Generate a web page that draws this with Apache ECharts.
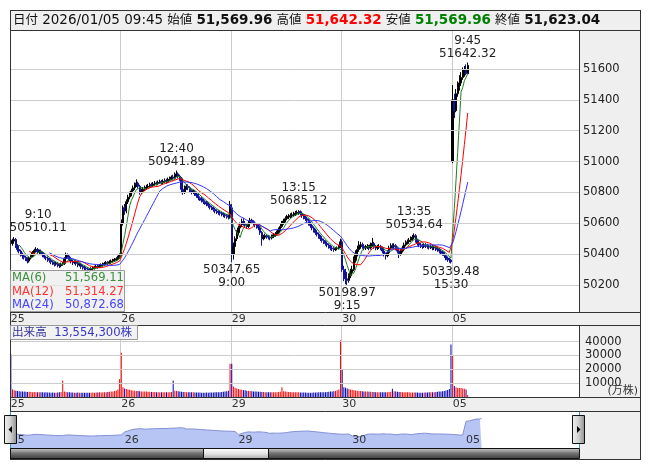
<!DOCTYPE html>
<html><head><meta charset="utf-8">
<script src="https://cdn.jsdelivr.net/npm/echarts@6.0.0/dist/echarts.min.js"></script>
<style>html,body{margin:0;padding:0;background:#fff}#c{width:653px;height:470px}</style>
</head><body><div id="c"></div>
<script>
// ---------------- data ----------------
const dayLabels = ['25', '26', '29', '30', '05'];
const barsPerDay = 66;
const mainSlots = 340;
const navSlots = 330;
// [open, close, low, high]
const candles25 = [
[50490,50470,50450,50505],[50470,50485,50455,50500],[50485,50495,50470,50510.11],[50495,50455,50440,50505],[50455,50430,50415,50465],[50430,50420,50405,50445],
[50420,50400,50385,50430],[50400,50390,50370,50410],[50390,50380,50365,50400],[50380,50370,50355,50390],[50370,50355,50340,50380],[50355,50375,50345,50385],
[50375,50390,50365,50400],[50390,50410,50380,50420],[50410,50425,50400,50435],[50425,50430,50410,50445],[50430,50415,50405,50440],[50415,50420,50400,50430],
[50420,50405,50395,50430],[50405,50395,50380,50415],[50395,50380,50370,50405],[50380,50375,50360,50390],[50375,50365,50350,50385],[50365,50360,50345,50375],
[50360,50350,50335,50370],[50350,50345,50330,50360],[50345,50335,50320,50355],[50335,50340,50325,50350],[50340,50330,50315,50350],[50330,50325,50310,50340],
[50325,50335,50315,50345],[50335,50340,50325,50350],[50340,50370,50330,50380],[50370,50395,50360,50410],[50395,50380,50370,50405],[50380,50365,50355,50390],
[50365,50355,50340,50375],[50355,50345,50330,50365],[50345,50350,50335,50360],[50350,50340,50325,50360],[50340,50330,50315,50350],[50330,50335,50320,50345],
[50335,50320,50305,50345],[50320,50315,50300,50330],[50315,50310,50295,50325],[50310,50305,50290,50320],[50305,50300,50285,50315],[50300,50298,50283,50310],
[50298,50305,50290,50315],[50305,50310,50295,50320],[50310,50315,50300,50325],[50315,50320,50305,50330],[50320,50318,50305,50330],[50318,50325,50310,50335],
[50325,50330,50315,50340],[50330,50335,50320,50345],[50335,50340,50325,50350],[50340,50345,50330,50355],[50345,50340,50327,50355],[50340,50350,50333,50360],
[50350,50355,50340,50365],[50355,50360,50345,50370],[50360,50365,50350,50375],[50365,50370,50355,50380],[50370,50380,50360,50390],[50380,50395,50370,50405]
];
const candles26 = [
[50400,50600,50390,50625],[50600,50700,50585,50715],[50700,50680,50655,50725],[50680,50740,50665,50755],[50740,50770,50725,50785],[50770,50790,50755,50805],
[50790,50810,50775,50825],[50810,50830,50795,50845],[50830,50850,50815,50865],[50850,50860,50835,50885],[50860,50840,50825,50870],[50840,50800,50785,50850],
[50800,50810,50790,50825],[50810,50820,50800,50835],[50820,50830,50810,50845],[50830,50835,50817,50850],[50835,50840,50823,50855],[50840,50850,50830,50863],
[50850,50845,50833,50863],[50845,50855,50835,50867],[50855,50860,50843,50873],[50860,50858,50845,50871],[50858,50865,50847,50877],[50865,50870,50855,50883],
[50870,50862,50850,50881],[50862,50872,50853,50885],[50872,50878,50861,50891],[50878,50870,50857,50889],[50870,50885,50861,50897],[50885,50890,50873,50903],
[50890,50900,50879,50910],[50900,50892,50877,50915],[50892,50915,50883,50930],[50915,50920,50900,50941.89],[50920,50905,50890,50930],[50905,50890,50875,50915],
[50890,50820,50795,50900],[50820,50800,50785,50835],[50800,50830,50790,50845],[50830,50840,50817,50855],[50840,50830,50815,50853],[50830,50815,50800,50840],
[50815,50800,50787,50825],[50800,50805,50790,50817],[50805,50790,50777,50815],[50790,50780,50765,50800],[50780,50765,50750,50790],[50765,50760,50745,50775],
[50760,50750,50735,50770],[50750,50740,50725,50760],[50740,50735,50720,50750],[50735,50725,50710,50745],[50725,50715,50700,50735],[50715,50705,50690,50725],
[50705,50700,50685,50715],[50700,50690,50675,50710],[50690,50680,50665,50700],[50680,50675,50660,50690],[50675,50670,50655,50685],[50670,50665,50650,50680],
[50665,50660,50645,50675],[50660,50655,50640,50670],[50655,50650,50635,50665],[50650,50645,50630,50660],[50645,50640,50625,50655],[50640,50720,50630,50745]
];
const candles29 = [
[50700,50400,50347.65,50725],[50400,50450,50365,50475],[50450,50500,50435,50515],[50500,50540,50485,50555],[50540,50570,50525,50585],[50570,50590,50555,50605],
[50590,50610,50575,50630],[50610,50600,50585,50635],[50600,50590,50575,50615],[50590,50580,50565,50600],[50580,50600,50570,50615],[50600,50620,50590,50635],
[50620,50610,50595,50630],[50610,50600,50585,50620],[50600,50590,50575,50610],[50590,50580,50565,50600],[50580,50570,50555,50590],[50570,50540,50525,50580],
[50540,50500,50455,50550],[50500,50510,50490,50525],[50510,50520,50500,50533],[50520,50515,50500,50530],[50515,50510,50495,50525],[50510,50505,50490,50520],
[50505,50515,50495,50527],[50515,50525,50505,50537],[50525,50530,50513,50543],[50530,50540,50520,50553],[50540,50560,50530,50573],[50560,50580,50550,50595],
[50580,50600,50570,50615],[50600,50615,50590,50630],[50615,50630,50605,50645],[50630,50640,50620,50655],[50640,50645,50627,50660],[50645,50650,50633,50665],
[50650,50655,50637,50670],[50655,50660,50643,50675],[50660,50665,50647,50680],[50665,50670,50653,50683],[50670,50675,50655,50685.12],[50675,50665,50650,50683],
[50665,50650,50635,50675],[50650,50640,50625,50660],[50640,50630,50615,50650],[50630,50620,50605,50640],[50620,50600,50585,50630],[50600,50585,50570,50610],
[50585,50570,50555,50595],[50570,50555,50540,50580],[50555,50540,50525,50565],[50540,50530,50515,50550],[50530,50515,50500,50540],[50515,50500,50485,50525],
[50500,50490,50475,50510],[50490,50480,50465,50500],[50480,50470,50455,50490],[50470,50460,50445,50480],[50460,50450,50435,50470],[50450,50440,50425,50460],
[50440,50435,50420,50450],[50435,50430,50415,50445],[50430,50435,50420,50445],[50435,50440,50425,50450],[50440,50450,50430,50460],[50450,50480,50440,50500]
];
const candles30 = [
[50480,50300,50285,50495],[50300,50260,50225,50325],[50260,50240,50205,50305],[50240,50230,50198.97,50285],[50230,50260,50215,50275],[50260,50280,50245,50305],
[50280,50300,50265,50325],[50300,50360,50290,50385],[50360,50400,50345,50425],[50400,50430,50385,50455],[50430,50450,50415,50485],[50450,50460,50435,50480],
[50460,50450,50435,50475],[50450,50440,50425,50465],[50440,50445,50427,50460],[50445,50450,50433,50465],[50450,50440,50425,50460],[50440,50460,50430,50475],
[50460,50470,50450,50505],[50470,50450,50435,50480],[50450,50440,50425,50460],[50440,50445,50427,50460],[50445,50450,50433,50465],[50450,50440,50425,50460],
[50440,50420,50405,50450],[50420,50400,50385,50430],[50400,50390,50365,50410],[50390,50410,50380,50425],[50410,50440,50400,50455],[50440,50455,50430,50470],
[50455,50450,50435,50470],[50450,50455,50437,50470],[50455,50440,50425,50465],[50440,50420,50405,50450],[50420,50400,50375,50430],[50400,50420,50390,50435],
[50420,50440,50410,50455],[50440,50460,50430,50475],[50460,50475,50450,50490],[50475,50480,50463,50495],[50480,50490,50467,50505],[50490,50500,50477,50515],
[50500,50510,50487,50525],[50510,50520,50497,50534.64],[50520,50490,50475,50530],[50490,50470,50455,50500],[50470,50460,50445,50480],[50460,50455,50440,50473],
[50455,50450,50435,50467],[50450,50460,50440,50473],[50460,50455,50440,50471],[50455,50450,50435,50467],[50450,50445,50430,50461],[50445,50450,50433,50463],
[50450,50440,50425,50460],[50440,50445,50427,50457],[50445,50435,50420,50455],[50435,50430,50415,50447],[50430,50420,50405,50440],[50420,50415,50400,50433],
[50415,50405,50390,50425],[50405,50390,50375,50415],[50390,50375,50360,50400],[50375,50365,50350,50385],[50365,50362,50345,50377],[50362,50350,50339.48,50370]
];
const candles05 = [
[51000,51400,50990,51496],[51400,51330,51282,51440],[51330,51440,51320,51470],[51440,51480,51420,51520],[51480,51510,51460,51560],
[51510,51545,51490,51580],[51545,51575,51530,51610],[51575,51595,51550,51620],[51595,51570,51560,51630],[51569.96,51623.04,51569.96,51642.32]
];
// volume (万株)
const vol25 = [31000,5500,4900,4600,4300,4200,4000,3900,3900,3800,3600,3800,3600,3500,3600,3500,3400,3500,3400,3400,3300,3400,3300,3300,3100,3300,3100,3100,3300,3400,3600,12000,3900,3600,3500,3400,3300,3300,3100,3100,3300,3100,3100,3000,3100,3100,3000,3100,3100,3300,3100,3300,3300,3400,3300,3400,3500,3500,3600,3800,3900,4000,4300,4700,5500,13000];
const vol26 = [32000,7000,6200,5700,5500,5200,4900,4700,4600,4400,4300,4200,4000,4000,3900,3900,3800,3800,3600,3600,3600,3500,3500,3500,3400,3400,3400,3400,3500,3500,3600,12000,4600,4300,4200,3900,3800,3600,3600,3500,3500,3400,3400,3400,3300,3300,3300,3300,3100,3100,3100,3300,3100,3300,3300,3300,3400,3400,3500,3500,3600,3800,3900,4200,4600,24000];
const vol29 = [24000,7500,6600,6200,5700,5500,5200,4900,4800,4600,4400,4300,4200,4000,3900,3900,3800,3800,3600,3600,3500,3500,3500,3400,3400,3400,3500,3500,3600,3800,7000,4200,3900,3800,3600,3600,3500,3500,3400,3400,3400,3300,3300,3300,3300,3100,3100,3100,3100,3300,3300,3300,3400,3400,3400,3500,3500,3600,3800,3900,4000,4200,4400,4800,5500,41000];
const vol30 = [20000,7000,6600,6200,5700,5500,5200,4900,4700,4600,4400,4300,4200,4000,3900,3900,3800,3800,3600,3600,3500,3500,3500,3400,3400,3400,3500,3500,3600,3800,6000,4200,3900,3800,3600,3600,3500,3500,3400,3400,3400,3300,3300,3300,3300,3300,3100,3100,3100,3300,3300,3300,3400,3400,3500,3500,3600,3800,3900,4000,4200,4400,4700,5000,5700,38000];
const vol05 = [30000,8000,7000,6500,6500,6500,6200,6000,5500,1355.43];

const priceTicks = [50200, 50400, 50600, 50800, 51000, 51200, 51400, 51600];
const volTicks = [10000, 20000, 30000, 40000];
const maPeriods = [6, 12, 24];
const maLegendValues = [51569.11, 51314.27, 50872.68];
const quoteTime = '2026/01/05 09:45';
const quoteOpen = 51569.96, quoteHigh = 51642.32, quoteLow = 51569.96, quoteClose = 51623.04;
const annoIndex = [2, 99, 172, 241, 273, 132, 201, 263];
const annoTime = ['9:10', '12:40', '13:15', '13:35', '9:45', '9:00', '9:15', '15:30'];
const annoValue = [50510.11, 50941.89, 50685.12, 50534.64, 51642.32, 50347.65, 50198.97, 50339.48];
const annoKind = ['high', 'high', 'high', 'high', 'high', 'low', 'low', 'low'];

// ---------------- chart ----------------
const candles = [].concat(candles25, candles26, candles29, candles30, candles05);
const volumes = [].concat(vol25, vol26, vol29, vol30, vol05);
const closes = candles.map(d => d[1]);
const cats = Array.from({length: mainSlots}, (_, i) => 'b' + i);
const navCats = Array.from({length: navSlots}, (_, i) => 'n' + i);
function movingAverage(n) {
  return closes.map((c, i) => {
    if (i < n - 1) return null;
    let s = 0; for (let k = i - n + 1; k <= i; k++) s += closes[k];
    return +(s / n).toFixed(2);
  });
}
const isDayStart = i => i % barsPerDay === 0 && i / barsPerDay < dayLabels.length;
const dayFmt = (v, i) => isDayStart(i) ? dayLabels[i / barsPerDay] : '';
const FONT = '"DejaVu Sans","Noto Sans CJK JP",sans-serif';
const UP = '#000000', DOWN = '#10109c', VUP = '#ff0000', VDOWN = '#0000b4';
const maColors = ['#1e7d1e', '#ff0000', '#3636ff'];
const maTextColors = ['#3c8f3c', '#ff3434', '#4444ff'];
const fmt2 = v => v.toLocaleString('en-US', {minimumFractionDigits: 2, maximumFractionDigits: 2});
const GRID = '#cccccc';
const PANEL = '#efefef';
const FRAME = '#333333';

const chart = echarts.init(document.getElementById('c'));

const xCommon = {
  type: 'category', boundaryGap: true,
  axisLine: {show: false}, axisTick: {show: false}
};

const option = {
  animation: false,
  backgroundColor: '#ffffff',
  grid: [
    {left: 10, top: 30, width: 569, height: 282, show: true, backgroundColor: '#fff', borderWidth: 0},
    {left: 10, top: 325, width: 569, height: 72, show: true, backgroundColor: '#fff', borderWidth: 0},
    {left: 10, top: 411, width: 569, height: 37, show: true, backgroundColor: '#fff', borderWidth: 0}
  ],
  xAxis: [
    Object.assign({}, xCommon, {gridIndex: 0, data: cats,
      axisLabel: {interval: (i) => isDayStart(i), formatter: dayFmt, align: 'left', margin: 2, color: '#333', fontSize: 11, fontFamily: FONT},
      splitLine: {show: true, interval: (i) => isDayStart(i) && i > 0, lineStyle: {color: GRID, width: 1}}}),
    Object.assign({}, xCommon, {gridIndex: 1, data: cats,
      axisLabel: {interval: (i) => isDayStart(i), formatter: dayFmt, align: 'left', margin: 2, color: '#333', fontSize: 11, fontFamily: FONT},
      splitLine: {show: true, interval: (i) => isDayStart(i) && i > 0, lineStyle: {color: GRID, width: 1}}}),
    Object.assign({}, xCommon, {gridIndex: 2, data: navCats, z: 10,
      axisLabel: {inside: true, interval: (i) => isDayStart(i), formatter: dayFmt, align: 'left', margin: 2, color: '#333', fontSize: 11, fontFamily: FONT},
      splitLine: {show: false}})
  ],
  yAxis: [
    {gridIndex: 0, type: 'value', position: 'right', min: 50025, max: 51853, splitNumber: 9, scale: true,
      axisLine: {show: false}, axisTick: {show: false}, splitLine: {show: false},
      axisLabel: {margin: 4, color: '#222', fontSize: 11.5, fontFamily: FONT, formatter: v => priceTicks.indexOf(v) >= 0 ? String(v) : ''}},
    {gridIndex: 1, type: 'value', position: 'right', min: 0, max: 52000, interval: 10000,
      axisLine: {show: false}, axisTick: {show: false}, splitLine: {show: false},
      axisLabel: {margin: 6, color: '#222', fontSize: 11.5, fontFamily: FONT, formatter: v => volTicks.indexOf(v) >= 0 ? String(v) : ''}},
    {gridIndex: 2, type: 'value', min: 49400, max: 52175, show: false}
  ],
  series: [
    {type: 'line', xAxisIndex: 0, yAxisIndex: 0, data: cats.map(() => null), z: 1, silent: true, symbol: 'none',
      markLine: {silent: true, symbol: ['none', 'none'], animation: false, label: {show: false},
        lineStyle: {color: GRID, type: 'solid', width: 1}, data: priceTicks.map(v => ({yAxis: v}))}},
    {type: 'candlestick', xAxisIndex: 0, yAxisIndex: 0, data: candles, z: 3, barWidth: 1.8,
      itemStyle: {color: UP, color0: DOWN, borderColor: UP, borderColor0: DOWN, borderWidth: 1},
      markPoint: {symbol: 'rect', symbolSize: 1, silent: true, animation: false,
        itemStyle: {color: 'rgba(0,0,0,0)'},
        data: annoIndex.map((idx, k) => {
          const high = annoKind[k] === 'high';
          return {
            coord: [idx, annoValue[k]],
            label: {show: true, position: high ? 'top' : 'bottom', distance: high ? 2 : 1,
              formatter: high ? annoTime[k] + '\n' + annoValue[k].toFixed(2) : annoValue[k].toFixed(2) + '\n' + annoTime[k],
              color: '#222', fontSize: 12, lineHeight: 13, fontFamily: FONT, align: 'center',
              offset: idx < 10 ? [24, 0] : [0, 0]}
          };
        })}},
    ...maPeriods.map((n, k) => ({type: 'line', xAxisIndex: 0, yAxisIndex: 0, data: movingAverage(n), z: 4,
      symbol: 'none', silent: true, lineStyle: {color: maColors[k], width: 1}})),
    {type: 'line', xAxisIndex: 1, yAxisIndex: 1, data: cats.map(() => null), z: 1, silent: true, symbol: 'none',
      markLine: {silent: true, symbol: ['none', 'none'], animation: false, label: {show: false},
        lineStyle: {color: GRID, type: 'solid', width: 1}, data: volTicks.map(v => ({yAxis: v}))}},
    {type: 'bar', xAxisIndex: 1, yAxisIndex: 1, barWidth: 1, z: 3,
      data: volumes.map((v, i) => ({value: v, itemStyle: {color: candles[i][1] >= candles[i][0] ? VUP : VDOWN}}))},
    {type: 'line', xAxisIndex: 2, yAxisIndex: 2, data: closes, symbol: 'none', silent: true, z: 2,
      lineStyle: {color: '#8490d4', width: 1}, areaStyle: {color: '#b7c5f5', opacity: 1}}
  ],
  graphic: []
};

const lg = (a, b, c, d, stops) => new echarts.graphic.LinearGradient(a, b, c, d, stops.map((s, i) => ({offset: i / (stops.length - 1), color: s})));
const G = [];
// panels (behind everything)
G.push({type: 'rect', z: -1, shape: {x: 10, y: 10, width: 630, height: 20}, style: {fill: PANEL}});
G.push({type: 'rect', z: -1, shape: {x: 579, y: 30, width: 61, height: 282}, style: {fill: PANEL}});
G.push({type: 'rect', z: -1, shape: {x: 10, y: 312, width: 630, height: 13}, style: {fill: PANEL}});
G.push({type: 'rect', z: -1, shape: {x: 579, y: 325, width: 61, height: 72}, style: {fill: PANEL}});
G.push({type: 'rect', z: -1, shape: {x: 10, y: 397, width: 630, height: 14}, style: {fill: PANEL}});
G.push({type: 'rect', z: -1, shape: {x: 579, y: 411, width: 61, height: 48}, style: {fill: PANEL}});
// frame lines
const hl = (y, x1, x2) => G.push({type: 'line', z: 50, shape: {x1, y1: y, x2, y2: y}, style: {stroke: FRAME, lineWidth: 1}});
const vl = (x, y1, y2, c) => G.push({type: 'line', z: 50, shape: {x1: x, y1, x2: x, y2}, style: {stroke: c || FRAME, lineWidth: 1}});
hl(10.5, 10, 640.5); hl(30.5, 10, 640.5); hl(312.5, 10, 640.5); hl(325.5, 10, 640.5); hl(397.5, 10, 640.5); hl(411.5, 10, 640.5); hl(459.5, 10, 640.5);
vl(10.5, 10, 460); vl(640.5, 10, 460); vl(579.5, 30, 312); vl(579.5, 325, 397);
vl(10.5, 412, 448, '#2f9ad6'); vl(579.5, 412, 448, '#2f9ad6');
// header
G.push({type: 'text', z: 60, x: 13, y: 20.5, style: {
  text: '{l|日付} {n|' + quoteTime + '} {l|始値} {b|' + fmt2(quoteOpen) + '} {l|高値} {r|' + fmt2(quoteHigh) + '} {l|安値} {g|' + fmt2(quoteLow) + '} {l|終値} {b|' + fmt2(quoteClose) + '}',
  verticalAlign: 'middle', font: '13px ' + FONT, fill: '#111',
  rich: {
    l: {fontSize: 12.5, fontFamily: FONT, fill: '#111'},
    n: {fontSize: 13.5, fontFamily: FONT, fill: '#111'},
    b: {fontSize: 13.5, fontFamily: FONT, fontWeight: 'bold', fill: '#111'},
    r: {fontSize: 13.5, fontFamily: FONT, fontWeight: 'bold', fill: '#ff0000'},
    g: {fontSize: 13.5, fontFamily: FONT, fontWeight: 'bold', fill: '#008000'}
  }}});
// MA legend
G.push({type: 'rect', z: 60, shape: {x: 10.5, y: 270.5, width: 114, height: 41}, style: {fill: 'rgba(236,236,236,0.72)', stroke: '#9a9a9a', lineWidth: 1}});
maPeriods.forEach((n, k) => {
  G.push({type: 'text', z: 61, x: 12, y: 278 + k * 13.5, style: {text: 'MA(' + n + ')', font: '11.6px ' + FONT, fill: maTextColors[k], verticalAlign: 'middle'}});
  G.push({type: 'text', z: 61, x: 124, y: 278 + k * 13.5, style: {text: fmt2(maLegendValues[k]), font: '11.6px ' + FONT, fill: maTextColors[k], verticalAlign: 'middle', align: 'right'}});
});
// volume legend
const lastVolShares = Math.round(volumes[volumes.length - 1] * 10000);
G.push({type: 'rect', z: 60, shape: {x: 10.5, y: 325.5, width: 127, height: 14}, style: {fill: 'rgba(240,240,240,0.85)', stroke: '#9a9a9a', lineWidth: 1}});
G.push({type: 'text', z: 61, x: 12, y: 333, style: {text: '{a|出来高}  {v|' + lastVolShares.toLocaleString('en-US') + '株}', verticalAlign: 'middle', font: '11.6px ' + FONT,
  rich: {a: {fontSize: 11.6, fontFamily: FONT, fill: '#33339a'}, v: {fontSize: 11.6, fontFamily: FONT, fill: '#3434c8'}}}});
G.push({type: 'text', z: 61, x: 638, y: 391, style: {text: '(万株)', font: '11px ' + FONT, fill: '#333', align: 'right', verticalAlign: 'middle'}});
// navigator scrollbar + handles
G.push({type: 'rect', z: 55, shape: {x: 10.5, y: 448.5, width: 569, height: 10}, style: {fill: lg(0, 0, 0, 1, ['#d0d0d0', '#707070', '#3a3a3a']), stroke: '#111', lineWidth: 1}});
G.push({type: 'rect', z: 56, shape: {x: 203.5, y: 448.5, width: 65, height: 10}, style: {fill: lg(0, 0, 0, 1, ['#ffffff', '#e4e4e4', '#a8a8a8']), stroke: '#111', lineWidth: 1}});
G.push({type: 'rect', z: 57, shape: {x: 4.5, y: 415.5, width: 12, height: 28}, style: {fill: lg(0, 0, 1, 0, ['#f4f4f4', '#d0d0d0', '#8a8a8a']), stroke: '#111', lineWidth: 1}});
G.push({type: 'polygon', z: 58, shape: {points: [[12, 426], [8.5, 429.5], [12, 433]]}, style: {fill: '#000'}});
G.push({type: 'rect', z: 57, shape: {x: 572.5, y: 415.5, width: 12, height: 28}, style: {fill: lg(0, 0, 1, 0, ['#f4f4f4', '#d0d0d0', '#8a8a8a']), stroke: '#111', lineWidth: 1}});
G.push({type: 'polygon', z: 58, shape: {points: [[577, 426], [580.5, 429.5], [577, 433]]}, style: {fill: '#000'}});
option.graphic = G;

chart.setOption(option);
</script>
</body></html>
